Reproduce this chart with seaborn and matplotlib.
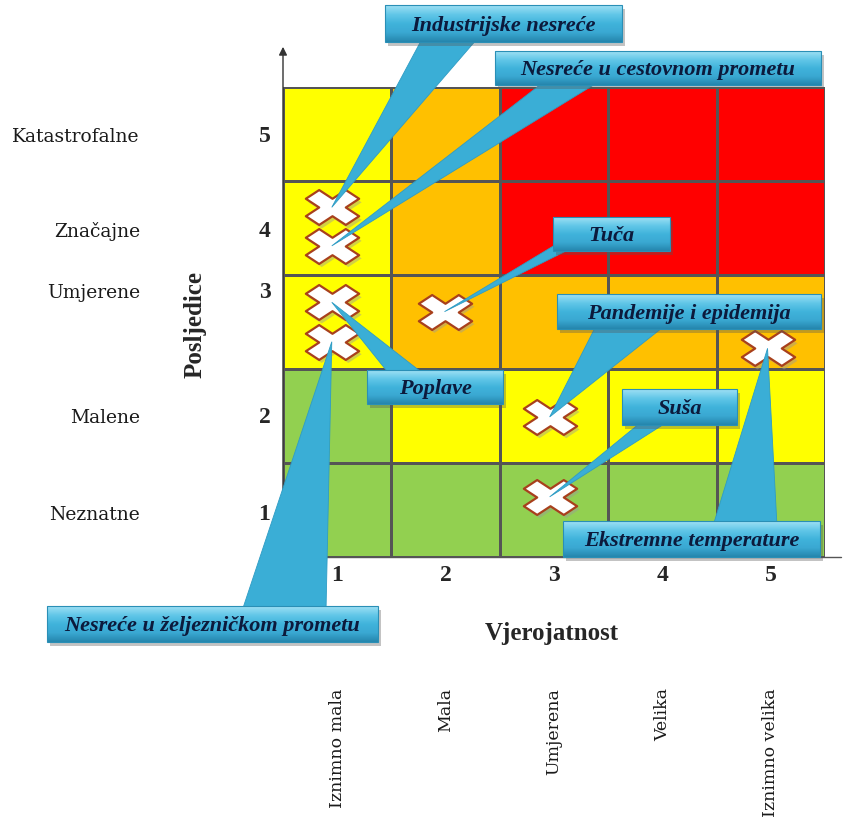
import numpy as np
import pandas as pd
import seaborn as sns
import matplotlib.pyplot as plt
from matplotlib.colors import ListedColormap, LinearSegmentedColormap
from matplotlib.markers import MarkerStyle
from matplotlib.patches import Polygon, Rectangle
from matplotlib.transforms import Affine2D

sns.set_style("white")

# axis categories
likelihood_ticks = ["1", "2", "3", "4", "5"]
likelihood_names = ["Iznimno mala", "Mala", "Umjerena", "Velika", "Iznimno velika"]
consequence_ticks = ["1", "2", "3", "4", "5"]
consequence_names = ["Neznatne", "Malene", "Umjerene", "Značajne", "Katastrofalne"]
consequence_label_pos = [0.96, 1.99, 3.32, 3.97, 4.98]

# risk level of each cell (0 green, 1 yellow, 2 orange, 3 red), consequence 1..5
risk_c1 = [0, 0, 0, 0, 0]
risk_c2 = [0, 1, 1, 1, 1]
risk_c3 = [1, 2, 2, 2, 2]
risk_c4 = [1, 2, 3, 3, 3]
risk_c5 = [1, 2, 3, 3, 3]
risk_colors = ["#92D050", "#FFFF00", "#FFC000", "#FF0000"]

# hazards placed on the matrix
hazards = ["Industrijske nesreće", "Nesreće u cestovnom prometu", "Poplave",
           "Nesreće u željezničkom prometu", "Tuča", "Pandemije i epidemija",
           "Suša", "Ekstremne temperature"]
hazard_likelihood = [0.95, 0.95, 0.95, 0.95, 1.99, 2.96, 2.96, 4.97]
hazard_consequence = [4.22, 3.81, 3.21, 2.79, 3.11, 1.99, 1.14, 2.72]

# callout boxes in pixels (x0, y0, x1, y1) and wedge base (xa, xb, y)
boxes = [(385, 6, 622, 43), (495, 52, 821, 86), (367, 371, 503, 405),
         (47, 607, 378, 643), (553, 218, 670, 252), (557, 295, 821, 330),
         (622, 390, 737, 426), (563, 522, 820, 558)]
bases = [(422, 477, 40), (545, 600, 82), (390, 425, 376),
         (242, 326, 612), (565, 590, 240), (597, 667, 325),
         (645, 672, 420), (713, 777, 527)]

W, H = 849, 829
fig = plt.figure(figsize=(W / 100, H / 100), dpi=100)
ax = fig.add_axes([283 / W, (H - 558) / H, 542 / W, 470 / H])

risk = pd.DataFrame([risk_c1, risk_c2, risk_c3, risk_c4, risk_c5],
                    index=consequence_ticks, columns=likelihood_ticks)
sns.heatmap(risk, cmap=ListedColormap(risk_colors), vmin=-0.5, vmax=3.5,
            cbar=False, linewidths=0.9, linecolor="#555555", ax=ax)
ax.set_ylim(0, 5)
ax.set_xlim(0, 5)

serif = "DejaVu Serif"
bold_serif = "Liberation Serif"

ax.set_xticks(np.arange(5) + 0.5, likelihood_ticks)
ax.set_yticks(np.array(consequence_label_pos) - 0.5, consequence_ticks)
for t in ax.get_xticklabels() + ax.get_yticklabels():
    t.set_fontfamily(bold_serif)
    t.set_fontweight("bold")
    t.set_fontsize(17)
    t.set_rotation(0)
ax.tick_params(axis="x", length=0, pad=5)
ax.tick_params(axis="y", length=0, pad=9)
ax.set_xlabel("")
ax.set_ylabel("")

for name, yv in zip(consequence_names, consequence_label_pos):
    ax.text(-0.264, yv - 0.5, name, transform=ax.get_yaxis_transform(),
            ha="right", va="center", fontsize=13.5, family=serif, color="#1a1a1a")
for i, name in enumerate(likelihood_names):
    ax.text(i + 0.5, -0.277, name, transform=ax.get_xaxis_transform(),
            ha="center", va="top", rotation=90, fontsize=12.5, family=serif,
            color="#1a1a1a")

ax.text(-0.162, 0.496, "Posljedice", transform=ax.transAxes, rotation=90,
        ha="center", va="center", fontsize=18, fontweight="bold", family=bold_serif)
ax.text(0.496, -0.16, "Vjerojatnost", transform=ax.transAxes,
        ha="center", va="center", fontsize=18, fontweight="bold", family=bold_serif)

# axis lines
ax.annotate("", xy=(0, 5.457), xytext=(0, 0), annotation_clip=False,
            arrowprops=dict(arrowstyle="-|>", color="#333333", lw=1.0, mutation_scale=12))
ax.plot([0, 5.15], [0, 0], color="#555555", lw=1.0, clip_on=False)

# hazard markers
mx = np.array(hazard_likelihood) - 0.5
my = np.array(hazard_consequence) - 0.5
xmark = MarkerStyle("X", transform=Affine2D().scale(1.45, 0.95))
sns.scatterplot(x=mx + 0.03, y=my - 0.04, marker=xmark, s=700, color="#9a9a9a",
                edgecolor="none", alpha=0.45, ax=ax, legend=False, zorder=3, clip_on=False)
sns.scatterplot(x=mx, y=my, marker=xmark, s=700, color="white",
                edgecolor="#a8401c", linewidth=1.6, ax=ax, legend=False, zorder=4,
                clip_on=False)

# callouts on a full-figure overlay in pixel units
ov = fig.add_axes([0, 0, 1, 1], zorder=5)
ov.axis("off")
disp = ax.transData.transform(np.column_stack([mx, my]))
tips_x = disp[:, 0]
tips_y = H - disp[:, 1]

grad_cmap = LinearSegmentedColormap.from_list(
    "box", ["#9ee0f4", "#62c7e8", "#40b3db", "#3aa8d2", "#2586ad"])
grad = np.linspace(0, 1, 64).reshape(-1, 1)

for i, name in enumerate(hazards):
    x0, y0, x1, y1 = boxes[i]
    xa, xb, yb = bases[i]
    ov.add_patch(Polygon([(xa, yb), (xb, yb), (tips_x[i], tips_y[i])],
                         closed=True, facecolor="#3aaed6", edgecolor="#2f9cc4",
                         lw=0.6, zorder=1))
    ov.add_patch(Rectangle((x0 + 3, y0 + 4), x1 - x0, y1 - y0,
                           facecolor="#555555", alpha=0.35, edgecolor="none", zorder=2))
    ov.imshow(grad, extent=(x0, x1, y1, y0), cmap=grad_cmap, aspect="auto",
              zorder=3, interpolation="bilinear")
    ov.add_patch(Rectangle((x0, y0), x1 - x0, y1 - y0, facecolor="none",
                           edgecolor="#2a8fb6", lw=0.8, zorder=4))
    ov.text((x0 + x1) / 2, (y0 + y1) / 2 + 1, name, ha="center", va="center",
            fontsize=16, fontweight="bold", fontstyle="italic", family=bold_serif,
            color="#0c1a3c", zorder=5)

ov.set_xlim(0, W)
ov.set_ylim(H, 0)

fig.savefig("out.png", dpi=100)
